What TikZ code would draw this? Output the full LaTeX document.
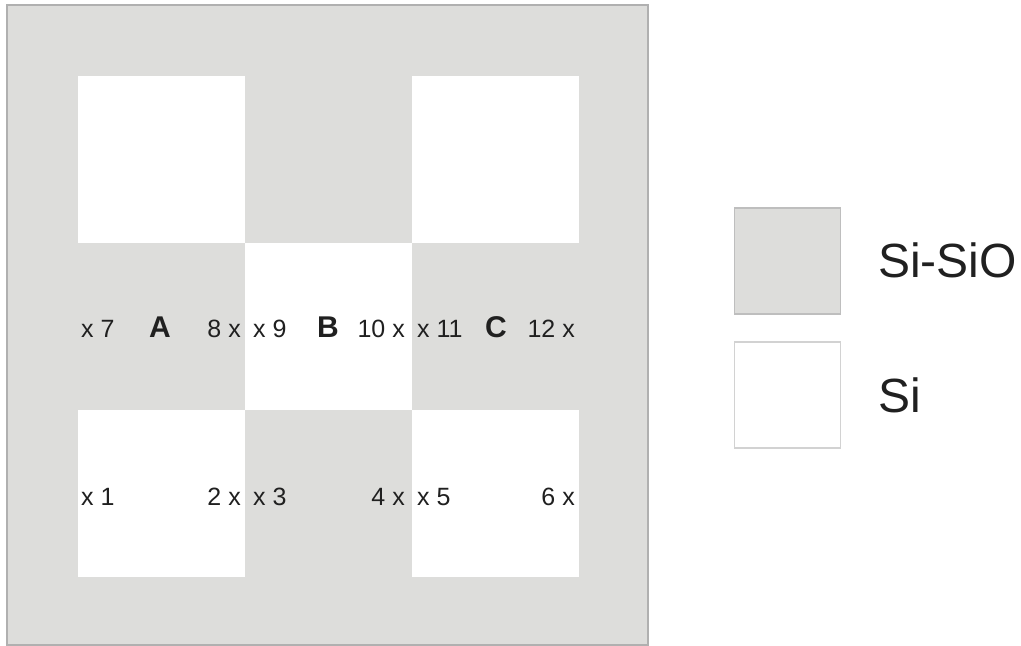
\documentclass[tikz,border=0pt]{standalone}
\usepackage{fontspec}
\setmainfont{Liberation Sans}
\definecolor{oxide}{RGB}{221,221,219}
\definecolor{rim}{RGB}{176,176,176}
\definecolor{ink}{RGB}{32,32,32}
\tikzset{
  lbl/.style={font=\fontsize{25bp}{29bp}\selectfont, text=ink, inner sep=0pt},
  tag/.style={font=\fontsize{30bp}{34bp}\selectfont\bfseries, text=ink, inner sep=0pt, anchor=base},
  legbox/.style={minimum size=106bp, inner sep=0pt, line width=1.5bp},
  legtxt/.style={font=\fontsize{48bp}{56bp}\selectfont, text=ink, inner sep=0pt, anchor=base west}
}
\begin{document}
\begin{tikzpicture}[x=1bp, y=-1bp]
	\useasboundingbox (0,0) rectangle (1021,646);
	% sample: oxide frame with white Si windows
	\fill[oxide] (7,5) rectangle (648,645);
	\foreach \c/\r in {0/0,2/0,1/1,0/2,2/2}
		\fill[white] ({78+167*\c},{76+167*\r}) rectangle +(167,167);
	\draw[rim, line width=1.5bp] (7,5) rectangle (648,645);
	% middle row
	\node[lbl, anchor=base west] (p7) at (81,337) {x 7};
	\node[tag] (A) at (160,337) {A};
	\node[lbl, anchor=base east] (p8) at (241,337) {8 x};
	\node[lbl, anchor=base west] (p9) at (253,337) {x 9};
	\node[tag] (B) at (328,337) {B};
	\node[lbl, anchor=base east] (p10) at (405,337) {10 x};
	\node[lbl, anchor=base west] (p11) at (417,337) {x 11};
	\node[tag] (C) at (496,337) {C};
	\node[lbl, anchor=base east] (p12) at (575,337) {12 x};
	% bottom row
	\node[lbl, anchor=base west] (p1) at (81,505) {x 1};
	\node[lbl, anchor=base east] (p2) at (241,505) {2 x};
	\node[lbl, anchor=base west] (p3) at (253,505) {x 3};
	\node[lbl, anchor=base east] (p4) at (405,505) {4 x};
	\node[lbl, anchor=base west] (p5) at (417,505) {x 5};
	\node[lbl, anchor=base east] (p6) at (575,505) {6 x};
	% legend
	\node[legbox, fill=oxide, draw={rgb,255:red,190;green,190;blue,190}] (oxbox) at (787.5,261) {};
	\node[legbox, fill=white, draw={rgb,255:red,210;green,210;blue,210}] (sibox) at (787.5,395) {};
	\node[legtxt] (oxtxt) at (878,278) {Si-SiO};
	\node[legtxt] (sitxt) at (878,412) {Si};
\end{tikzpicture}
\end{document}
